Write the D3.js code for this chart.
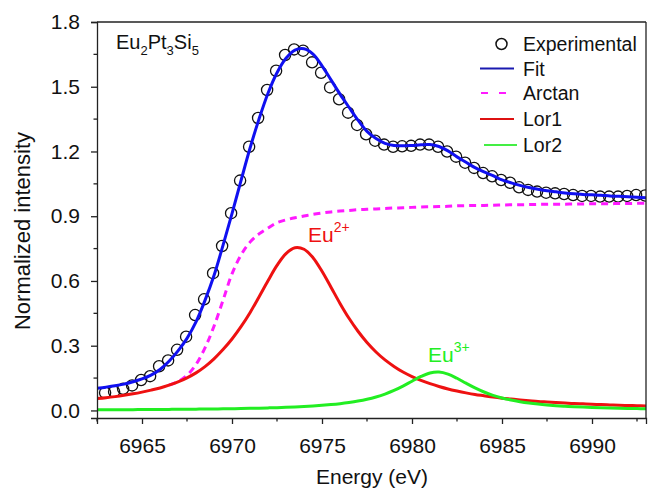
<!DOCTYPE html>
<html>
<head>
<meta charset="utf-8">
<script src="https://cdn.jsdelivr.net/npm/d3@7"></script>
<style>
  body { margin: 0; background: #fff; }
  svg { display: block; font-family: Arial, "Liberation Sans", sans-serif; }
</style>
</head>
<body>
<div id="chart"></div>
<script>
// energy grid of the fitted curves (eV)
var energy = [6962.5, 6963, 6963.5, 6964, 6964.5, 6965, 6965.5, 6966, 6966.5, 6967,
  6967.5, 6968, 6968.5, 6969, 6969.5, 6970, 6970.5, 6971, 6971.5, 6972,
  6972.5, 6973, 6973.5, 6974, 6974.5, 6975, 6975.5, 6976, 6976.5, 6977,
  6977.5, 6978, 6978.5, 6979, 6979.5, 6980, 6980.5, 6981, 6981.5, 6982,
  6982.5, 6983, 6983.5, 6984, 6984.5, 6985, 6985.5, 6986, 6986.5, 6987,
  6987.5, 6988, 6988.5, 6989, 6989.5, 6990, 6990.5, 6991, 6991.5, 6992,
  6992.5, 6993];

var fitValues = [0.103, 0.108, 0.114, 0.122, 0.133, 0.146, 0.164, 0.190, 0.228, 0.276,
  0.334, 0.410, 0.510, 0.625, 0.765, 0.912, 1.065, 1.215, 1.350, 1.470,
  1.565, 1.632, 1.670, 1.676, 1.651, 1.597, 1.532, 1.466, 1.405, 1.345,
  1.293, 1.260, 1.238, 1.228, 1.226, 1.228, 1.231, 1.232, 1.223, 1.203,
  1.175, 1.150, 1.125, 1.105, 1.088, 1.068, 1.055, 1.043, 1.033, 1.025,
  1.018, 1.013, 1.008, 1.004, 1.001, 0.999, 0.997, 0.994, 0.992, 0.990,
  0.988, 0.986];

var arctanValues = [null, null, null, null, null, null, null, null, 0.117, 0.134,
  0.163, 0.213, 0.290, 0.390, 0.510, 0.633, 0.720, 0.780, 0.818, 0.845,
  0.870, 0.883, 0.893, 0.901, 0.909, 0.915, 0.920, 0.924, 0.927, 0.930,
  0.932, 0.934, 0.936, 0.938, 0.939, 0.941, 0.943, 0.944, 0.945, 0.946,
  0.948, 0.949, 0.950, 0.950, 0.951, 0.952, 0.953, 0.953, 0.954, 0.955,
  0.955, 0.956, 0.956, 0.957, 0.957, 0.958, 0.958, 0.958, 0.959, 0.959,
  0.960, 0.960];

var lor1Values = [0.055, 0.059, 0.064, 0.070, 0.077, 0.085, 0.094, 0.104, 0.117, 0.132,
  0.151, 0.174, 0.203, 0.239, 0.282, 0.331, 0.388, 0.453, 0.526, 0.601,
  0.672, 0.727, 0.754, 0.747, 0.708, 0.645, 0.571, 0.496, 0.427, 0.367,
  0.315, 0.271, 0.234, 0.204, 0.178, 0.157, 0.139, 0.124, 0.111, 0.0995,
  0.090, 0.0815, 0.074, 0.068, 0.062, 0.057, 0.053, 0.049, 0.0455, 0.042,
  0.0395, 0.037, 0.0345, 0.032, 0.0305, 0.029, 0.027, 0.0255, 0.024, 0.023,
  0.022, 0.021];

var lor2Values = [0.003, 0.0032, 0.0034, 0.0036, 0.0038, 0.004, 0.0043, 0.0046, 0.0049, 0.0052,
  0.0056, 0.006, 0.0064, 0.007, 0.0075, 0.0082, 0.0089, 0.0097, 0.0107, 0.0118,
  0.013, 0.0145, 0.0162, 0.0182, 0.0207, 0.0236, 0.0271, 0.0314, 0.0368, 0.0434,
  0.0518, 0.0625, 0.0759, 0.0926, 0.1128, 0.1355, 0.1576, 0.1736, 0.1777, 0.1683,
  0.1491, 0.1263, 0.1044, 0.0855, 0.0701, 0.0579, 0.0482, 0.0406, 0.0345, 0.0296,
  0.0256, 0.0223, 0.0196, 0.0174, 0.0155, 0.0139, 0.0125, 0.0113, 0.0103, 0.0094,
  0.0086, 0.0079];

// experimental points
var expEnergy = [6962.95, 6963.45, 6963.95, 6964.45, 6964.95, 6965.45, 6965.95, 6966.45, 6966.95, 6967.45,
  6967.95, 6968.45, 6968.95, 6969.45, 6969.95, 6970.45, 6970.95, 6971.45, 6971.95, 6972.45,
  6972.95, 6973.45, 6973.95, 6974.45, 6974.95, 6975.45, 6975.95, 6976.45, 6976.95, 6977.45,
  6977.95, 6978.45, 6978.95, 6979.45, 6979.95, 6980.45, 6980.95, 6981.45, 6981.95, 6982.45,
  6982.95, 6983.45, 6983.95, 6984.45, 6984.95, 6985.45, 6985.95, 6986.45, 6986.95, 6987.45,
  6987.95, 6988.45, 6988.95, 6989.45, 6989.95, 6990.45, 6990.95, 6991.45, 6991.95, 6992.45,
  6992.95];

var expValues = [0.082, 0.087, 0.100, 0.116, 0.141, 0.159, 0.205, 0.232, 0.281, 0.342,
  0.442, 0.515, 0.636, 0.762, 0.914, 1.065, 1.222, 1.355, 1.485, 1.574,
  1.647, 1.673, 1.667, 1.613, 1.565, 1.497, 1.442, 1.380, 1.323, 1.280,
  1.250, 1.232, 1.222, 1.224, 1.226, 1.232, 1.232, 1.222, 1.200, 1.176,
  1.148, 1.124, 1.100, 1.085, 1.068, 1.055, 1.034, 1.022, 1.014, 1.009,
  1.006, 1.003, 0.998, 0.994, 0.994, 0.991, 0.991, 0.991, 0.994, 0.998,
  0.996];

var xTicks = [6965, 6970, 6975, 6980, 6985, 6990];
var xMinorTicks = [6962.5, 6967.5, 6972.5, 6977.5, 6982.5, 6987.5, 6992.5];
var yTicks = [0, 0.3, 0.6, 0.9, 1.2, 1.5, 1.8];
var yMinorTicks = [0.15, 0.45, 0.75, 1.05, 1.35, 1.65];

var margin = { top: 22, right: 2, bottom: 72, left: 97 },
    width = 648 - margin.left - margin.right,
    height = 490 - margin.top - margin.bottom;

var svg = d3.select("#chart").append("svg")
    .attr("width", 648)
    .attr("height", 490);

var g = svg.append("g")
    .attr("transform", "translate(" + margin.left + "," + margin.top + ")");

var x = d3.scaleLinear().domain([6962.5, 6993]).range([0, width]);
var y = d3.scaleLinear().domain([-0.035, 1.8]).range([height, 0]);

g.append("clipPath").attr("id", "plotClip")
    .append("rect").attr("width", width).attr("height", height);

var plot = g.append("g").attr("clip-path", "url(#plotClip)");

// experimental circles
plot.selectAll(".pt")
    .data(expEnergy.map(function (e, i) { return [e, expValues[i]]; }))
    .enter().append("circle")
    .attr("class", "pt")
    .attr("cx", function (d) { return x(d[0]); })
    .attr("cy", function (d) { return y(d[1]); })
    .attr("r", 5.6)
    .attr("fill", "none")
    .attr("stroke", "#111")
    .attr("stroke-width", 1.3);

var line = d3.line()
    .defined(function (d) { return d[1] !== null; })
    .x(function (d) { return x(d[0]); })
    .y(function (d) { return y(d[1]); })
    .curve(d3.curveCatmullRom);

var series = [
    { name: "Fit", values: fitValues, color: "#1010f0", dash: null },
    { name: "Arctan", values: arctanValues, color: "#ff1aff", dash: "7,5" },
    { name: "Lor1", values: lor1Values, color: "#ee1111", dash: null },
    { name: "Lor2", values: lor2Values, color: "#22ee22", dash: null }
];

series.forEach(function (s) {
    plot.append("path")
        .datum(energy.map(function (e, i) { return [e, s.values[i]]; }))
        .attr("fill", "none")
        .attr("stroke", s.color)
        .attr("stroke-width", 3)
        .attr("stroke-dasharray", s.dash)
        .attr("d", line);
});

// axes
var axisColor = "#222";
var xAxis = g.append("g")
    .attr("transform", "translate(0," + height + ")")
    .call(d3.axisBottom(x).tickValues(xTicks).tickSize(6).tickPadding(14).tickFormat(d3.format("d")));
g.append("g").attr("transform", "translate(0," + height + ")")
    .selectAll("line").data(xMinorTicks).enter().append("line")
    .attr("x1", function (d) { return x(d); }).attr("x2", function (d) { return x(d); })
    .attr("y1", 0).attr("y2", 3.5)
    .attr("stroke", axisColor).attr("stroke-width", 1.3);

var yAxis = g.append("g")
    .call(d3.axisLeft(y).tickValues(yTicks).tickSize(6).tickPadding(11).tickFormat(d3.format(".1f")));
g.append("g")
    .selectAll("line").data(yMinorTicks).enter().append("line")
    .attr("x1", -3.5).attr("x2", 0)
    .attr("y1", function (d) { return y(d); }).attr("y2", function (d) { return y(d); })
    .attr("stroke", axisColor).attr("stroke-width", 1.3);

[xAxis, yAxis].forEach(function (a) {
    a.select(".domain").attr("stroke", axisColor).attr("stroke-width", 1.3);
    a.selectAll(".tick line").attr("stroke", axisColor).attr("stroke-width", 1.3);
    a.selectAll(".tick text").attr("fill", "#111").style("font-size", "21px")
        .style("font-family", "Arial, 'Liberation Sans', sans-serif");
});

// frame top and right
g.append("line").attr("x1", 0).attr("x2", width).attr("y1", 0).attr("y2", 0)
    .attr("stroke", axisColor).attr("stroke-width", 1.3);
g.append("line").attr("x1", width).attr("x2", width).attr("y1", 0).attr("y2", height)
    .attr("stroke", axisColor).attr("stroke-width", 1.3);

// axis titles
svg.append("text")
    .attr("x", 372).attr("y", 484)
    .attr("text-anchor", "middle")
    .style("font-size", "21px").attr("fill", "#111")
    .text("Energy (eV)");

svg.append("text")
    .attr("transform", "translate(30,231)rotate(-90)")
    .attr("text-anchor", "middle")
    .style("font-size", "22px").attr("fill", "#111")
    .text("Normalized intensity");

// compound label
var comp = svg.append("text").attr("x", 116).attr("y", 55)
    .style("font-size", "20px").attr("fill", "#111");
[["Eu", 0], ["2", 1], ["Pt", 0], ["3", 1], ["Si", 0], ["5", 1]].forEach(function (p) {
    comp.append("tspan")
        .attr("dy", p[1] ? 6 : (comp.selectAll("tspan").size() ? -6 : 0))
        .style("font-size", p[1] ? "13px" : "20px")
        .text(p[0]);
});

// peak labels
function peakLabel(px, py, sup, color) {
    var t = svg.append("text").attr("x", px).attr("y", py)
        .style("font-size", "21px").attr("fill", color);
    t.append("tspan").text("Eu");
    t.append("tspan").attr("dy", -10).style("font-size", "14px").text(sup);
}
peakLabel(308, 242, "2+", "#ee1111");
peakLabel(428, 362, "3+", "#22ee22");

// legend
var legend = svg.append("g");
var rows = [
    { label: "Experimental", y: 44 },
    { label: "Fit", y: 68.5, color: "#1a1ab0", x1: 480, x2: 514 },
    { label: "Arctan", y: 93, color: "#ff1aff", x1: 481, x2: 507, dash: "7,11" },
    { label: "Lor1", y: 119, color: "#dd1111", x1: 480, x2: 514 },
    { label: "Lor2", y: 145, color: "#44ee44", x1: 484, x2: 517 }
];
rows.forEach(function (r, i) {
    if (i === 0) {
        legend.append("circle").attr("cx", 501.5).attr("cy", r.y).attr("r", 5.5)
            .attr("fill", "none").attr("stroke", "#111").attr("stroke-width", 1.5);
    } else {
        legend.append("line").attr("x1", r.x1).attr("x2", r.x2)
            .attr("y1", r.y).attr("y2", r.y)
            .attr("stroke", r.color).attr("stroke-width", 2)
            .attr("stroke-dasharray", r.dash || null);
    }
    legend.append("text").attr("x", 523).attr("y", r.y + 7)
        .style("font-size", "19.5px").attr("fill", "#111")
        .text(r.label);
});
</script>
</body>
</html>
